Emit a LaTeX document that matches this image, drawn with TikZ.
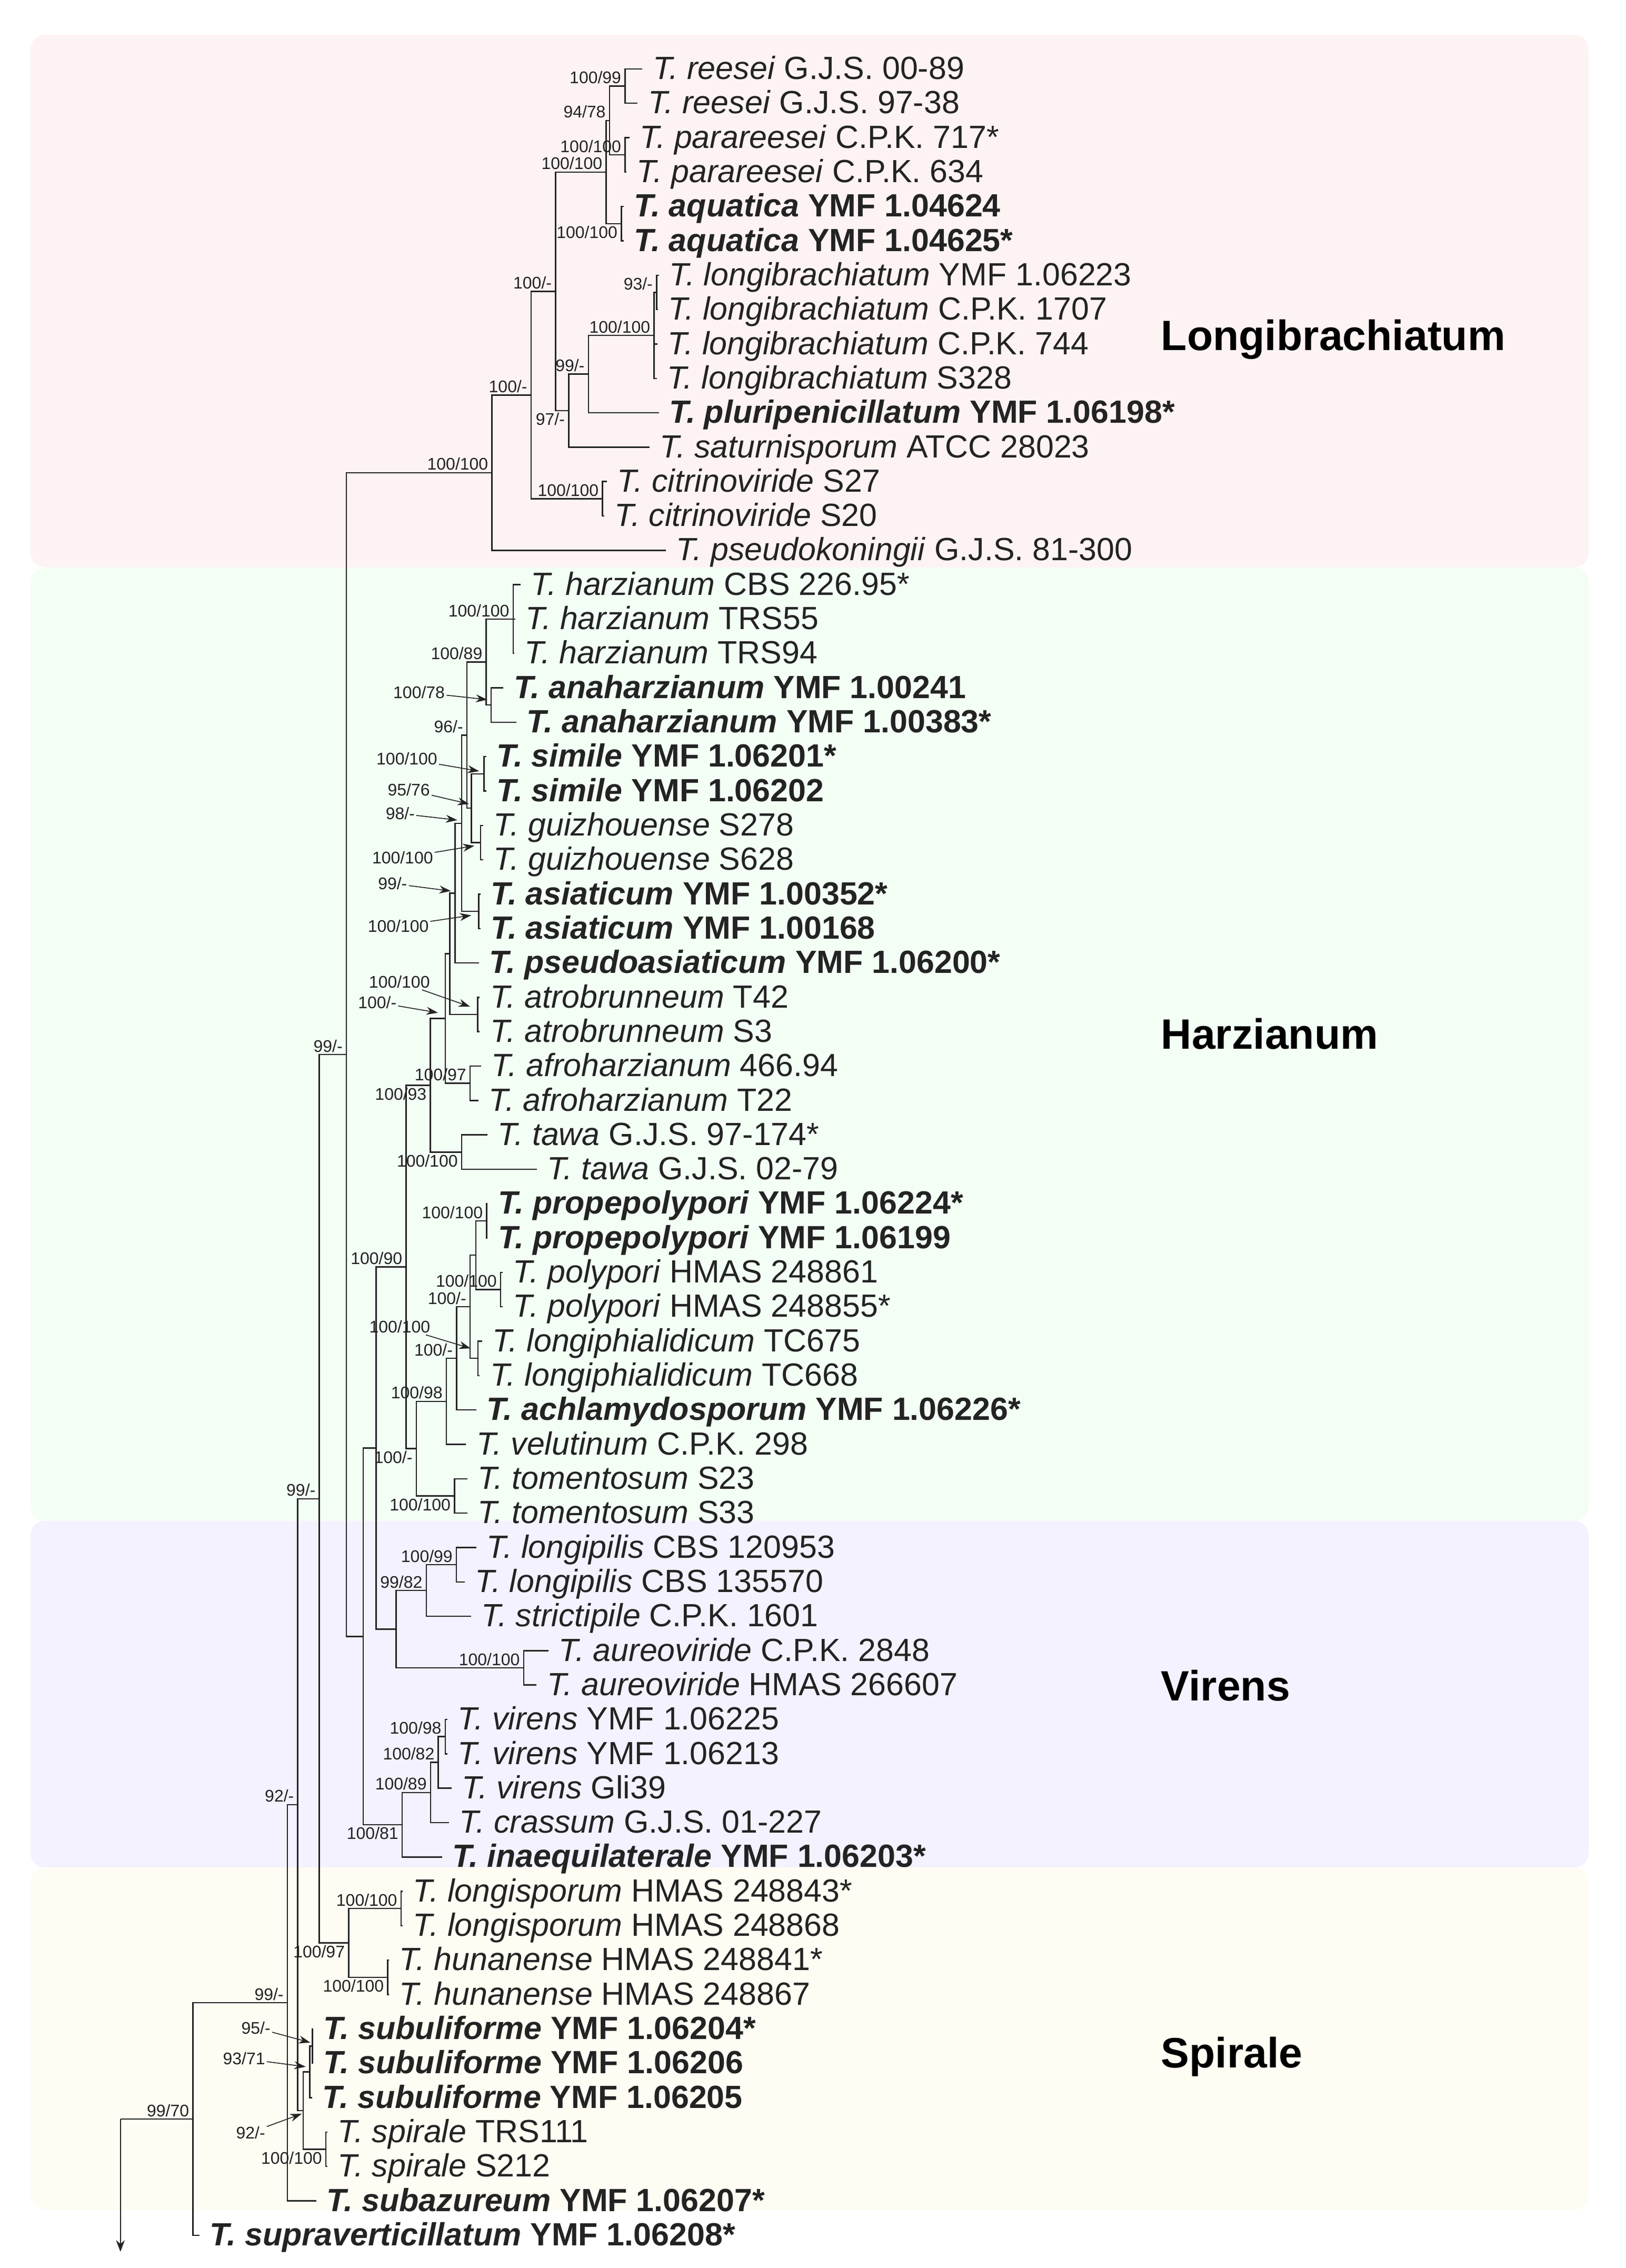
\documentclass[tikz,border=0pt]{standalone}
\usepackage{fontspec}
\setmainfont{Liberation Sans}
\usetikzlibrary{arrows.meta}
\definecolor{longibg}{RGB}{254,243,243}
\definecolor{harzbg}{RGB}{243,254,245}
\definecolor{virbg}{RGB}{243,242,254}
\definecolor{spirbg}{RGB}{254,252,243}
\definecolor{ink}{RGB}{35,35,35}
\newcommand{\taxon}[2]{\textit{T. #1} #2}
\newcommand{\novel}[2]{\textbf{\textit{T. #1} #2}}

\begin{document}
\begin{tikzpicture}[x=1pt,y=-1pt,
    branch/.style={draw=ink, line width=0.9pt},
    pointer/.style={draw=ink, line width=0.6pt, -{Stealth[length=8pt,width=5.5pt]}},
    tip/.style={anchor=base west, inner sep=0pt, xshift=7pt, yshift=-7.2pt, text=ink,
      font=\fontsize{22.3}{26}\selectfont},
    supa/.style={anchor=base east, inner sep=0pt, xshift=-2.5pt, yshift=1.8pt, text=ink,
      font=\fontsize{11.7}{13}\selectfont},
    supb/.style={supa, yshift=-12pt},
    supl/.style={anchor=east, inner sep=1pt, text=ink, font=\fontsize{11.7}{13}\selectfont},
    clade/.style={anchor=base west, inner sep=0pt, font=\fontsize{29.5}{32}\selectfont\bfseries}]
    \useasboundingbox (0,0) rectangle (1130,1576.4);

    % clade boxes
    \fill[longibg, rounded corners=10pt] (21.2,24.2) rectangle (1104.3,394.4);
    \fill[harzbg, rounded corners=10pt] (21.2,394.4) rectangle (1104.3,1057);
    \fill[virbg, rounded corners=10pt] (21.2,1057) rectangle (1104.3,1298);
    \fill[spirbg, rounded corners=10pt] (21.2,1298) rectangle (1104.3,1536);

    \node[clade] (cLongi) at (807,243.5) {Longibrachiatum};
    \node[clade] (cHarz) at (807,729.1) {Harzianum};
    \node[clade] (cVir) at (807,1182) {Virens};
    \node[clade] (cSpir) at (807,1437) {Spirale};

    \begin{scope}[y=-23.9pt, yshift=-24pt]
      % tips
      \coordinate (t1) at (446.6,1);
      \coordinate (t2) at (443.3,2);
      \coordinate (t3) at (437.6,3);
      \coordinate (t4) at (435.5,4);
      \coordinate (t5) at (433.5,5);
      \coordinate (t6) at (433.5,6);
      \coordinate (t7) at (458,7);
      \coordinate (t8) at (457.5,8);
      \coordinate (t9) at (457,9);
      \coordinate (t10) at (456.5,10);
      \coordinate (t11) at (458,11);
      \coordinate (t12) at (451.5,12);
      \coordinate (t13) at (422,13);
      \coordinate (t14) at (420,14);
      \coordinate (t15) at (463,15);
      \coordinate (t16) at (361.9,16);
      \coordinate (t17) at (358.2,17);
      \coordinate (t18) at (357.5,18);
      \coordinate (t19) at (350,19);
      \coordinate (t20) at (359,20);
      \coordinate (t21) at (338,21);
      \coordinate (t22) at (338,22);
      \coordinate (t23) at (336,23);
      \coordinate (t24) at (336,24);
      \coordinate (t25) at (334,25);
      \coordinate (t26) at (334,26);
      \coordinate (t27) at (333,27);
      \coordinate (t28) at (333.5,28);
      \coordinate (t29) at (333.5,29);
      \coordinate (t30) at (334.5,30);
      \coordinate (t31) at (332.5,31);
      \coordinate (t32) at (338.8,32);
      \coordinate (t33) at (373.1,33);
      \coordinate (t34) at (339,34);
      \coordinate (t35) at (339,35);
      \coordinate (t36) at (349.5,36);
      \coordinate (t37) at (349.5,37);
      \coordinate (t38) at (335,38);
      \coordinate (t39) at (333.5,39);
      \coordinate (t40) at (331,40);
      \coordinate (t41) at (324,41);
      \coordinate (t42) at (324.8,42);
      \coordinate (t43) at (324.8,43);
      \coordinate (t44) at (331.1,44);
      \coordinate (t45) at (323,45);
      \coordinate (t46) at (327.4,46);
      \coordinate (t47) at (381.2,47);
      \coordinate (t48) at (373,48);
      \coordinate (t49) at (311,49);
      \coordinate (t50) at (311,50);
      \coordinate (t51) at (314,51);
      \coordinate (t52) at (312.2,52);
      \coordinate (t53) at (307.2,53);
      \coordinate (t54) at (280,54);
      \coordinate (t55) at (280,55);
      \coordinate (t56) at (270.5,56);
      \coordinate (t57) at (270.5,57);
      \coordinate (t58) at (217.5,58);
      \coordinate (t59) at (217.5,59);
      \coordinate (t60) at (217,60);
      \coordinate (t61) at (227.5,61);
      \coordinate (t62) at (227.5,62);
      \coordinate (t63) at (220,63);
      \coordinate (t64) at (138.8,64);

      \node[tip] (l1) at (t1) {\taxon{reesei}{G.J.S. 00-89}};
      \node[tip] (l2) at (t2) {\taxon{reesei}{G.J.S. 97-38}};
      \node[tip] (l3) at (t3) {\taxon{parareesei}{C.P.K. 717*}};
      \node[tip] (l4) at (t4) {\taxon{parareesei}{C.P.K. 634}};
      \node[tip] (l5) at (t5) {\novel{aquatica}{YMF 1.04624}};
      \node[tip] (l6) at (t6) {\novel{aquatica}{YMF 1.04625*}};
      \node[tip] (l7) at (t7) {\taxon{longibrachiatum}{YMF 1.06223}};
      \node[tip] (l8) at (t8) {\taxon{longibrachiatum}{C.P.K. 1707}};
      \node[tip] (l9) at (t9) {\taxon{longibrachiatum}{C.P.K. 744}};
      \node[tip] (l10) at (t10) {\taxon{longibrachiatum}{S328}};
      \node[tip] (l11) at (t11) {\novel{pluripenicillatum}{YMF 1.06198*}};
      \node[tip] (l12) at (t12) {\taxon{saturnisporum}{ATCC 28023}};
      \node[tip] (l13) at (t13) {\taxon{citrinoviride}{S27}};
      \node[tip] (l14) at (t14) {\taxon{citrinoviride}{S20}};
      \node[tip] (l15) at (t15) {\taxon{pseudokoningii}{G.J.S. 81-300}};
      \node[tip] (l16) at (t16) {\taxon{harzianum}{CBS 226.95*}};
      \node[tip] (l17) at (t17) {\taxon{harzianum}{TRS55}};
      \node[tip] (l18) at (t18) {\taxon{harzianum}{TRS94}};
      \node[tip] (l19) at (t19) {\novel{anaharzianum}{YMF 1.00241}};
      \node[tip] (l20) at (t20) {\novel{anaharzianum}{YMF 1.00383*}};
      \node[tip] (l21) at (t21) {\novel{simile}{YMF 1.06201*}};
      \node[tip] (l22) at (t22) {\novel{simile}{YMF 1.06202}};
      \node[tip] (l23) at (t23) {\taxon{guizhouense}{S278}};
      \node[tip] (l24) at (t24) {\taxon{guizhouense}{S628}};
      \node[tip] (l25) at (t25) {\novel{asiaticum}{YMF 1.00352*}};
      \node[tip] (l26) at (t26) {\novel{asiaticum}{YMF 1.00168}};
      \node[tip] (l27) at (t27) {\novel{pseudoasiaticum}{YMF 1.06200*}};
      \node[tip] (l28) at (t28) {\taxon{atrobrunneum}{T42}};
      \node[tip] (l29) at (t29) {\taxon{atrobrunneum}{S3}};
      \node[tip] (l30) at (t30) {\taxon{afroharzianum}{466.94}};
      \node[tip] (l31) at (t31) {\taxon{afroharzianum}{T22}};
      \node[tip] (l32) at (t32) {\taxon{tawa}{G.J.S. 97-174*}};
      \node[tip] (l33) at (t33) {\taxon{tawa}{G.J.S. 02-79}};
      \node[tip] (l34) at (t34) {\novel{propepolypori}{YMF 1.06224*}};
      \node[tip] (l35) at (t35) {\novel{propepolypori}{YMF 1.06199}};
      \node[tip] (l36) at (t36) {\taxon{polypori}{HMAS 248861}};
      \node[tip] (l37) at (t37) {\taxon{polypori}{HMAS 248855*}};
      \node[tip] (l38) at (t38) {\taxon{longiphialidicum}{TC675}};
      \node[tip] (l39) at (t39) {\taxon{longiphialidicum}{TC668}};
      \node[tip] (l40) at (t40) {\novel{achlamydosporum}{YMF 1.06226*}};
      \node[tip] (l41) at (t41) {\taxon{velutinum}{C.P.K. 298}};
      \node[tip] (l42) at (t42) {\taxon{tomentosum}{S23}};
      \node[tip] (l43) at (t43) {\taxon{tomentosum}{S33}};
      \node[tip] (l44) at (t44) {\taxon{longipilis}{CBS 120953}};
      \node[tip] (l45) at (t45) {\taxon{longipilis}{CBS 135570}};
      \node[tip] (l46) at (t46) {\taxon{strictipile}{C.P.K. 1601}};
      \node[tip] (l47) at (t47) {\taxon{aureoviride}{C.P.K. 2848}};
      \node[tip] (l48) at (t48) {\taxon{aureoviride}{HMAS 266607}};
      \node[tip] (l49) at (t49) {\taxon{virens}{YMF 1.06225}};
      \node[tip] (l50) at (t50) {\taxon{virens}{YMF 1.06213}};
      \node[tip] (l51) at (t51) {\taxon{virens}{Gli39}};
      \node[tip] (l52) at (t52) {\taxon{crassum}{G.J.S. 01-227}};
      \node[tip] (l53) at (t53) {\novel{inaequilaterale}{YMF 1.06203*}};
      \node[tip] (l54) at (t54) {\taxon{longisporum}{HMAS 248843*}};
      \node[tip] (l55) at (t55) {\taxon{longisporum}{HMAS 248868}};
      \node[tip] (l56) at (t56) {\taxon{hunanense}{HMAS 248841*}};
      \node[tip] (l57) at (t57) {\taxon{hunanense}{HMAS 248867}};
      \node[tip] (l58) at (t58) {\novel{subuliforme}{YMF 1.06204*}};
      \node[tip] (l59) at (t59) {\novel{subuliforme}{YMF 1.06206}};
      \node[tip] (l60) at (t60) {\novel{subuliforme}{YMF 1.06205}};
      \node[tip] (l61) at (t61) {\taxon{spirale}{TRS111}};
      \node[tip] (l62) at (t62) {\taxon{spirale}{S212}};
      \node[tip] (l63) at (t63) {\novel{subazureum}{YMF 1.06207*}};
      \node[tip] (l64) at (t64) {\novel{supraverticillatum}{YMF 1.06208*}};

      % inner nodes
      \coordinate (nRee) at (434.5,1.5);
      \coordinate (nPar) at (434.5,3.5);
      \coordinate (nRp) at (423.7,2.5);
      \coordinate (nAq) at (431.9,5.5);
      \coordinate (nRpa) at (421.4,4);
      \coordinate (n93L) at (456.4,7.5);
      \coordinate (nLong) at (454.7,8.75);
      \coordinate (nL4) at (409.0,9.875);
      \coordinate (nL3) at (395.3,10.938);
      \coordinate (nL1) at (386.2,7.469);
      \coordinate (nCitr) at (418.8,13.5);
      \coordinate (nL0) at (369.2,10.484);
      \coordinate (nLL) at (342.0,12.742);
      \coordinate (nHarz) at (356.7,17);
      \coordinate (nAna) at (341.5,19.5);
      \coordinate (n89) at (338.0,18.25);
      \coordinate (nSim) at (336.5,21.5);
      \coordinate (nGuiz) at (334.0,23.5);
      \coordinate (n9576) at (327.6,22.5);
      \coordinate (n96) at (324.6,20.375);
      \coordinate (nAsia) at (332.8,25.5);
      \coordinate (n98) at (320.9,22.938);
      \coordinate (n99h) at (316.4,24.969);
      \coordinate (nAtro) at (332.1,28.5);
      \coordinate (nU525) at (312.6,26.734);
      \coordinate (nAfro) at (326.8,30.5);
      \coordinate (n100d) at (309.6,28.617);
      \coordinate (nTawa) at (320.9,32.5);
      \coordinate (n10093) at (299.2,30.559);
      \coordinate (nProp) at (338.3,34.5);
      \coordinate (nPoly) at (348.0,36.5);
      \coordinate (nH745) at (330.8,35.5);
      \coordinate (nLph) at (332.3,38.5);
      \coordinate (nH718) at (326.8,37);
      \coordinate (nH655) at (317.4,38.5);
      \coordinate (n9898) at (310.3,39.75);
      \coordinate (nTom) at (315.9,42.5);
      \coordinate (nH100d) at (289.4,41.125);
      \coordinate (n10090) at (282.3,35.842);
      \coordinate (nLpil) at (317.3,44.5);
      \coordinate (n9982) at (296.3,45.25);
      \coordinate (nAur) at (364.0,47.5);
      \coordinate (nV1) at (275.4,46.375);
      \coordinate (nH) at (261.4,41.108);
      \coordinate (nVir) at (309.5,49.5);
      \coordinate (n10082) at (304.7,50.25);
      \coordinate (n10089) at (299.3,51.125);
      \coordinate (n10081) at (279.6,52.063);
      \coordinate (nHV) at (252.4,46.585);
      \coordinate (n99c) at (240.8,29.664);
      \coordinate (nLsp) at (278.8,54.5);
      \coordinate (nHun) at (269.5,56.5);
      \coordinate (n10097) at (242.4,55.5);
      \coordinate (n99b) at (222.0,42.582);
      \coordinate (n95) at (217.2,58.5);
      \coordinate (n9371) at (215.3,59.25);
      \coordinate (nSpir) at (226.5,61.5);
      \coordinate (n92b) at (210.7,60.375);
      \coordinate (n92a) at (207.0,51.478);
      \coordinate (n99s) at (199.8,57.239);
      \coordinate (n9970) at (134.1,60.620);
      \coordinate (root) at (83.7,60.620);
      \coordinate (rootend) at (83.7,64.48);

      % Longibrachiatum
      \draw[branch] (t1) -| (nRee) |- (t2);
      \draw[branch] (t3) -| (nPar) |- (t4);
      \draw[branch] (nRee) -| (nRp) |- (nPar);
      \draw[branch] (t5) -| (nAq) |- (t6);
      \draw[branch] (nRp) -| (nRpa) |- (nAq);
      \draw[branch] (t7) -| (n93L) |- (t8);
      \draw[branch] (n93L) -| (nLong) |- (t10);
      \draw[branch] (nLong) |- (t9);
      \draw[branch] (nLong) -| (nL4) |- (t11);
      \draw[branch] (nL4) -| (nL3) |- (t12);
      \draw[branch] (nRpa) -| (nL1) |- (nL3);
      \draw[branch] (t13) -| (nCitr) |- (t14);
      \draw[branch] (nL1) -| (nL0) |- (nCitr);
      \draw[branch] (nL0) -| (nLL) |- (t15);
      % Harzianum
      \draw[branch] (t16) -| (nHarz) |- (t18);
      \draw[branch] (nHarz) -- (t17);
      \draw[branch] (t19) -| (nAna) |- (t20);
      \draw[branch] (nHarz) -| (n89) |- (nAna);
      \draw[branch] (t21) -| (nSim) |- (t22);
      \draw[branch] (t23) -| (nGuiz) |- (t24);
      \draw[branch] (nSim) -| (n9576) |- (nGuiz);
      \draw[branch] (n89) -| (n96) |- (n9576);
      \draw[branch] (t25) -| (nAsia) |- (t26);
      \draw[branch] (n96) -| (n98) |- (nAsia);
      \draw[branch] (n98) -| (n99h) |- (t27);
      \draw[branch] (t28) -| (nAtro) |- (t29);
      \draw[branch] (n99h) -| (nU525) |- (nAtro);
      \draw[branch] (t30) -| (nAfro) |- (t31);
      \draw[branch] (nU525) -| (n100d) |- (nAfro);
      \draw[branch] (t32) -| (nTawa) |- (t33);
      \draw[branch] (n100d) -| (n10093) |- (nTawa);
      \draw[branch] (t34) -| (nProp) |- (t35);
      \draw[branch] (t36) -| (nPoly) |- (t37);
      \draw[branch] (nProp) -| (nH745) |- (nPoly);
      \draw[branch] (t38) -| (nLph) |- (t39);
      \draw[branch] (nH745) -| (nH718) |- (nLph);
      \draw[branch] (nH718) -| (nH655) |- (t40);
      \draw[branch] (nH655) -| (n9898) |- (t41);
      \draw[branch] (t42) -| (nTom) |- (t43);
      \draw[branch] (n9898) -| (nH100d) |- (nTom);
      \draw[branch] (n10093) -| (n10090) |- (nH100d);
      % Virens
      \draw[branch] (t44) -| (nLpil) |- (t45);
      \draw[branch] (nLpil) -| (n9982) |- (t46);
      \draw[branch] (t47) -| (nAur) |- (t48);
      \draw[branch] (n9982) -| (nV1) |- (nAur);
      \draw[branch] (n10090) -| (nH) |- (nV1);
      \draw[branch] (t49) -| (nVir) |- (t50);
      \draw[branch] (nVir) -| (n10082) |- (t51);
      \draw[branch] (n10082) -| (n10089) |- (t52);
      \draw[branch] (n10089) -| (n10081) |- (t53);
      \draw[branch] (nH) -| (nHV) |- (n10081);
      \draw[branch] (nLL) -| (n99c) |- (nHV);
      % Spirale
      \draw[branch] (t54) -| (nLsp) |- (t55);
      \draw[branch] (t56) -| (nHun) |- (t57);
      \draw[branch] (nLsp) -| (n10097) |- (nHun);
      \draw[branch] (n99c) -| (n99b) |- (n10097);
      \draw[branch] (t58) -| (n95) |- (t59);
      \draw[branch] (n95) -| (n9371) |- (t60);
      \draw[branch] (t61) -| (nSpir) |- (t62);
      \draw[branch] (n9371) -| (n92b) |- (nSpir);
      \draw[branch] (n99b) -| (n92a) |- (n92b);
      \draw[branch] (n92a) -| (n99s) |- (t63);
      \draw[branch] (n99s) -| (n9970) |- (t64);
      \draw[branch] (n9970) -- (root);
      \draw[branch, -{Stealth[length=8pt,width=6pt]}] (root) -- (rootend);

      % support values
      \node[supa] (bRee) at (nRee) {100/99};
      \node[supa] (bRp) at (nRp) {94/78};
      \node[supa] (bPar) at (nPar) {100/100};
      \node[supa] (bRpa) at (nRpa) {100/100};
      \node[supb] (bAq) at (nAq) {100/100};
      \node[supa] (bL1) at (nL1) {100/-};
      \node[supa] (b93L) at (n93L) {93/-};
      \node[supa] (bLong) at (nLong) {100/100};
      \node[supa] (bL4) at (nL4) {99/-};
      \node[supb] (bL3) at (nL3) {97/-};
      \node[supa] (bL0) at (nL0) {100/-};
      \node[supa] (bCitr) at (nCitr) {100/100};
      \node[supa] (bLL) at (nLL) {100/100};
      \node[supa] (b99c) at (n99c) {99/-};
      \node[supa] (bHarz) at (nHarz) {100/100};
      \node[supa] (b89) at (n89) {100/89};
      \node[supa] (b96) at (n96) {96/-};
      \node[supa] (bAfro) at (nAfro) {100/97};
      \node[supb] (b10093) at (n10093) {100/93};
      \node[supb] (bTawa) at (nTawa) {100/100};
      \node[supa] (b10090) at (n10090) {100/90};
      \node[supa] (bProp) at (nProp) {100/100};
      \node[supa] (bPoly) at (nPoly) {100/100};
      \node[supa] (bH718) at (nH718) {100/-};
      \node[supa] (bH655) at (nH655) {100/-};
      \node[supa] (b9898) at (n9898) {100/98};
      \node[supb] (bH100d) at (nH100d) {100/-};
      \node[supb] (bTom) at (nTom) {100/100};
      \node[supa] (bLpil) at (nLpil) {100/99};
      \node[supa] (b9982) at (n9982) {99/82};
      \node[supa] (bAur) at (nAur) {100/100};
      \node[supa] (bVir) at (nVir) {100/98};
      \node[supa] (b10082) at (n10082) {100/82};
      \node[supa] (b10089) at (n10089) {100/89};
      \node[supb] (b10081) at (n10081) {100/81};
      \node[supa] (b99b) at (n99b) {99/-};
      \node[supa] (bLsp) at (nLsp) {100/100};
      \node[supb] (b10097) at (n10097) {100/97};
      \node[supb] (bHun) at (nHun) {100/100};
      \node[supa] (b92a) at (n92a) {92/-};
      \node[supb] (bSpir) at (nSpir) {100/100};
      \node[supa] (b99s) at (n99s) {99/-};
      \node[supa] (b9970) at (n9970) {99/70};
    \end{scope}

    % support values with pointers
    \node[supl] (bAna) at (310.4,481.1) {100/78};
    \node[supl] (bSim) at (305.2,527.4) {100/100};
    \node[supl] (b9576) at (300,549) {95/76};
    \node[supl] (b98) at (289.5,565.5) {98/-};
    \node[supl] (bGuiz) at (302.2,596.1) {100/100};
    \node[supl] (b99h) at (284.2,614.1) {99/-};
    \node[supl] (bAsia) at (299.2,643.7) {100/100};
    \node[supl] (bAtro) at (300,682.5) {100/100};
    \node[supl] (b100d) at (276.8,696.7) {100/-};
    \node[supl] (bLph) at (300.2,922.3) {100/100};
    \node[supl] (b95) at (189.2,1409.4) {95/-};
    \node[supl] (b9371) at (185.5,1430.9) {93/71};
    \node[supl] (b92b) at (185.5,1482.2) {92/-};
    \coordinate (pAna) at (338.8,486.3);
    \coordinate (pSim) at (333.1,536);
    \coordinate (p9576) at (326.1,558.8);
    \coordinate (p98) at (317.9,570);
    \coordinate (pGuiz) at (329.8,587.9);
    \coordinate (p99h) at (313.4,619.3);
    \coordinate (pAsia) at (327.6,636.2);
    \coordinate (pAtro) at (326.8,699.7);
    \coordinate (p100d) at (304.4,703.9);
    \coordinate (pLph) at (327.1,937.2);
    \coordinate (p95) at (215.7,1419.7);
    \coordinate (p9371) at (212.5,1436.5);
    \coordinate (p92b) at (209.7,1469.2);
    \draw[pointer] (bAna) -- (pAna);
    \draw[pointer] (bSim) -- (pSim);
    \draw[pointer] (b9576) -- (p9576);
    \draw[pointer] (b98) -- (p98);
    \draw[pointer] (bGuiz) -- (pGuiz);
    \draw[pointer] (b99h) -- (p99h);
    \draw[pointer] (bAsia) -- (pAsia);
    \draw[pointer] (bAtro) -- (pAtro);
    \draw[pointer] (b100d) -- (p100d);
    \draw[pointer] (bLph) -- (pLph);
    \draw[pointer] (b95) -- (p95);
    \draw[pointer] (b9371) -- (p9371);
    \draw[pointer] (b92b) -- (p92b);
  \end{tikzpicture}
\end{document}
